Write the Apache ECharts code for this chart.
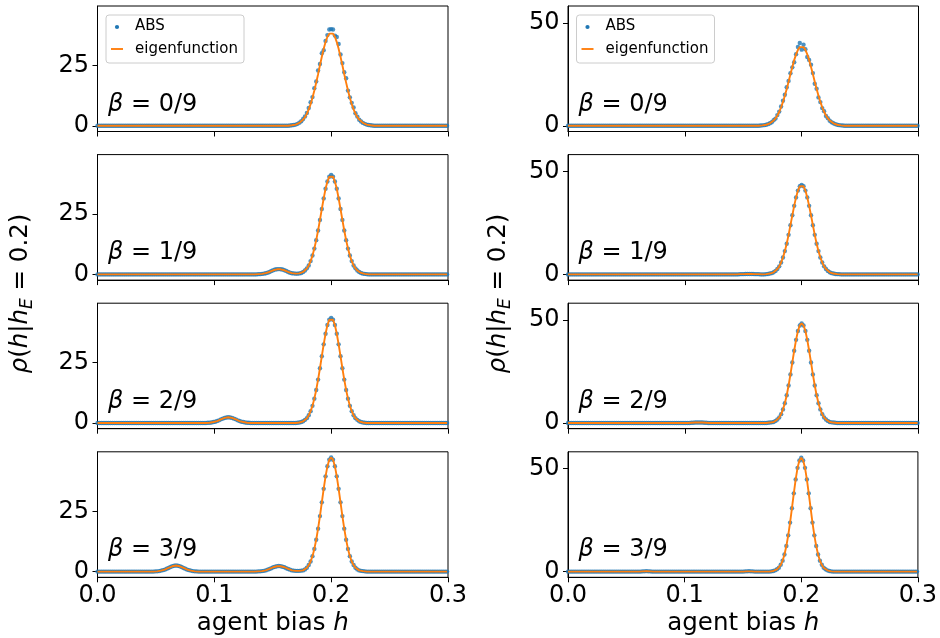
<!DOCTYPE html>
<html>
<head>
<meta charset="utf-8">
<script src="https://cdn.jsdelivr.net/npm/echarts@6/dist/echarts.min.js"></script>
<style>
  html, body { margin: 0; padding: 0; background: #ffffff; }
  #main { width: 940px; height: 638px; }
</style>
</head>
<body>
<div id="main"></div>
<script>
// Sampled bias values: sample i sits at h = i * hStep (188 samples, 0 ... 0.2992)
const hStep = 0.0016;

const betaLabels = ['0/9', '1/9', '2/9', '3/9'];
const xTicks = [0, 0.1, 0.2, 0.3];
const yTicksLeft = [0, 25];
const yTicksRight = [0, 50];

// ---- beta = 0/9 ----
const absLeftB0 = [
  0, 0, 0, 0, 0, 0, 0, 0, 0, 0,
  0, 0, 0, 0, 0, 0, 0, 0, 0, 0,
  0, 0, 0, 0, 0, 0, 0, 0, 0, 0,
  0, 0, 0, 0, 0, 0, 0, 0, 0, 0,
  0, 0, 0, 0, 0, 0, 0, 0, 0, 0,
  0, 0, 0, 0, 0, 0, 0, 0, 0, 0,
  0, 0, 0, 0, 0, 0, 0, 0, 0, 0,
  0, 0, 0, 0, 0, 0, 0, 0, 0, 0,
  0, 0, 0, 0, 0, 0, 0, 0, 0, 0,
  0, 0, 0, 0, 0, 0, 0, 0, 0, 0,
  0, 0, 0, 0.1, 0.2, 0.3, 0.5, 0.8, 1.3, 1.9,
  2.8, 3.9, 5.3, 7.4, 9.8, 11.9, 15.6, 18.4, 22.9, 25.6,
  30.1, 31.3, 35.2, 37.6, 39.9, 40.1, 39.9, 37.4, 36.8, 33.9,
  29.6, 26.0, 22.2, 19.7, 14.6, 11.8, 9.5, 7.6, 5.2, 3.8,
  2.5, 1.8, 1.2, 0.8, 0.5, 0.3, 0.2, 0.1, 0, 0,
  0, 0, 0, 0, 0, 0, 0, 0, 0, 0,
  0, 0, 0, 0, 0, 0, 0, 0, 0, 0,
  0, 0, 0, 0, 0, 0, 0, 0, 0, 0,
  0, 0, 0, 0, 0, 0, 0, 0
];
const absRightB0 = [
  0, 0, 0, 0, 0, 0, 0, 0, 0, 0,
  0, 0, 0, 0, 0, 0, 0, 0, 0, 0,
  0, 0, 0, 0, 0, 0, 0, 0, 0, 0,
  0, 0, 0, 0, 0, 0, 0, 0, 0, 0,
  0, 0, 0, 0, 0, 0, 0, 0, 0, 0,
  0, 0, 0, 0, 0, 0, 0, 0, 0, 0,
  0, 0, 0, 0, 0, 0, 0, 0, 0, 0,
  0, 0, 0, 0, 0, 0, 0, 0, 0, 0,
  0, 0, 0, 0, 0, 0, 0, 0, 0, 0,
  0, 0, 0, 0, 0, 0, 0, 0, 0, 0,
  0, 0, 0, 0.1, 0.2, 0.3, 0.5, 0.8, 1.2, 1.7,
  2.7, 3.5, 5.2, 6.9, 9.4, 12.2, 15.1, 18.7, 21.8, 25.5,
  28.4, 30.9, 34.8, 38.3, 40.2, 37.0, 39.4, 37.2, 33.4, 32.0,
  29.7, 25.6, 20.4, 18.0, 13.8, 11.5, 8.6, 7.1, 4.8, 3.7,
  2.5, 1.7, 1.2, 0.8, 0.5, 0.3, 0.2, 0.1, 0, 0,
  0, 0, 0, 0, 0, 0, 0, 0, 0, 0,
  0, 0, 0, 0, 0, 0, 0, 0, 0, 0,
  0, 0, 0, 0, 0, 0, 0, 0, 0, 0,
  0, 0, 0, 0, 0, 0, 0, 0
];
const eigenB0 = [
  0, 0, 0, 0, 0, 0, 0, 0, 0, 0,
  0, 0, 0, 0, 0, 0, 0, 0, 0, 0,
  0, 0, 0, 0, 0, 0, 0, 0, 0, 0,
  0, 0, 0, 0, 0, 0, 0, 0, 0, 0,
  0, 0, 0, 0, 0, 0, 0, 0, 0, 0,
  0, 0, 0, 0, 0, 0, 0, 0, 0, 0,
  0, 0, 0, 0, 0, 0, 0, 0, 0, 0,
  0, 0, 0, 0, 0, 0, 0, 0, 0, 0,
  0, 0, 0, 0, 0, 0, 0, 0, 0, 0,
  0, 0, 0, 0, 0, 0, 0, 0, 0, 0,
  0, 0, 0, 0.1, 0.2, 0.3, 0.5, 0.8, 1.2, 1.8,
  2.6, 3.6, 5.0, 6.8, 9.0, 11.6, 14.6, 17.9, 21.4, 25.1,
  28.6, 31.9, 34.7, 36.9, 38.2, 38.7, 38.2, 36.9, 34.7, 31.9,
  28.6, 25.1, 21.4, 17.9, 14.6, 11.6, 9.0, 6.8, 5.0, 3.6,
  2.6, 1.8, 1.2, 0.8, 0.5, 0.3, 0.2, 0.1, 0, 0,
  0, 0, 0, 0, 0, 0, 0, 0, 0, 0,
  0, 0, 0, 0, 0, 0, 0, 0, 0, 0,
  0, 0, 0, 0, 0, 0, 0, 0, 0, 0,
  0, 0, 0, 0, 0, 0, 0, 0
];

// ---- beta = 1/9 (ABS samples and eigenfunction coincide) ----
const leftB1 = [
  0, 0, 0, 0, 0, 0, 0, 0, 0, 0,
  0, 0, 0, 0, 0, 0, 0, 0, 0, 0,
  0, 0, 0, 0, 0, 0, 0, 0, 0, 0,
  0, 0, 0, 0, 0, 0, 0, 0, 0, 0,
  0, 0, 0, 0, 0, 0, 0, 0, 0, 0,
  0, 0, 0, 0, 0, 0, 0, 0, 0, 0,
  0, 0, 0, 0, 0, 0, 0, 0, 0, 0,
  0, 0, 0, 0, 0, 0, 0, 0, 0, 0,
  0, 0, 0, 0, 0, 0, 0.1, 0.1, 0.2, 0.3,
  0.5, 0.7, 1.0, 1.4, 1.7, 2.0, 2.1, 2.2, 2.1, 2.0,
  1.7, 1.4, 1.0, 0.7, 0.5, 0.4, 0.3, 0.3, 0.4, 0.6,
  1.0, 1.6, 2.5, 3.7, 5.5, 7.8, 10.7, 14.2, 18.2, 22.6,
  27.1, 31.5, 35.5, 38.5, 40.5, 41.2, 40.5, 38.5, 35.5, 31.5,
  27.1, 22.6, 18.2, 14.2, 10.7, 7.8, 5.5, 3.7, 2.5, 1.6,
  1.0, 0.6, 0.3, 0.2, 0.1, 0, 0, 0, 0, 0,
  0, 0, 0, 0, 0, 0, 0, 0, 0, 0,
  0, 0, 0, 0, 0, 0, 0, 0, 0, 0,
  0, 0, 0, 0, 0, 0, 0, 0, 0, 0,
  0, 0, 0, 0, 0, 0, 0, 0
];
const rightB1 = [
  0, 0, 0, 0, 0, 0, 0, 0, 0, 0,
  0, 0, 0, 0, 0, 0, 0, 0, 0, 0,
  0, 0, 0, 0, 0, 0, 0, 0, 0, 0,
  0, 0, 0, 0, 0, 0, 0, 0, 0, 0,
  0, 0, 0, 0, 0, 0, 0, 0, 0, 0,
  0, 0, 0, 0, 0, 0, 0, 0, 0, 0,
  0, 0, 0, 0, 0, 0, 0, 0, 0, 0,
  0, 0, 0, 0, 0, 0, 0, 0, 0, 0,
  0, 0, 0, 0, 0, 0, 0, 0, 0, 0,
  0, 0, 0.1, 0.1, 0.1, 0.2, 0.2, 0.2, 0.2, 0.2,
  0.1, 0.1, 0.1, 0, 0, 0, 0.1, 0.2, 0.4, 0.6,
  1.0, 1.7, 2.6, 3.9, 5.8, 8.2, 11.3, 14.9, 19.2, 23.9,
  28.7, 33.3, 37.4, 40.7, 42.8, 43.5, 42.8, 40.7, 37.4, 33.3,
  28.7, 23.9, 19.2, 14.9, 11.3, 8.2, 5.8, 3.9, 2.6, 1.7,
  1.0, 0.6, 0.4, 0.2, 0.1, 0.1, 0, 0, 0, 0,
  0, 0, 0, 0, 0, 0, 0, 0, 0, 0,
  0, 0, 0, 0, 0, 0, 0, 0, 0, 0,
  0, 0, 0, 0, 0, 0, 0, 0, 0, 0,
  0, 0, 0, 0, 0, 0, 0, 0
];

// ---- beta = 2/9 ----
const leftB2 = [
  0, 0, 0, 0, 0, 0, 0, 0, 0, 0,
  0, 0, 0, 0, 0, 0, 0, 0, 0, 0,
  0, 0, 0, 0, 0, 0, 0, 0, 0, 0,
  0, 0, 0, 0, 0, 0, 0, 0, 0, 0,
  0, 0, 0, 0, 0, 0, 0, 0, 0, 0,
  0, 0, 0, 0, 0, 0, 0, 0, 0, 0.1,
  0.1, 0.2, 0.4, 0.5, 0.8, 1.1, 1.5, 1.8, 2.1, 2.3,
  2.4, 2.3, 2.1, 1.8, 1.5, 1.1, 0.8, 0.5, 0.4, 0.2,
  0.1, 0.1, 0, 0, 0, 0, 0, 0, 0, 0,
  0, 0, 0, 0, 0, 0, 0, 0, 0, 0,
  0, 0, 0, 0, 0, 0, 0, 0.1, 0.2, 0.4,
  0.7, 1.3, 2.0, 3.2, 4.9, 7.1, 10.1, 13.7, 18.0, 22.7,
  27.7, 32.6, 37.0, 40.6, 42.8, 43.6, 42.8, 40.6, 37.0, 32.6,
  27.7, 22.7, 18.0, 13.7, 10.1, 7.1, 4.9, 3.2, 2.0, 1.3,
  0.7, 0.4, 0.2, 0.1, 0, 0, 0, 0, 0, 0,
  0, 0, 0, 0, 0, 0, 0, 0, 0, 0,
  0, 0, 0, 0, 0, 0, 0, 0, 0, 0,
  0, 0, 0, 0, 0, 0, 0, 0, 0, 0,
  0, 0, 0, 0, 0, 0, 0, 0
];
const rightB2 = [
  0, 0, 0, 0, 0, 0, 0, 0, 0, 0,
  0, 0, 0, 0, 0, 0, 0, 0, 0, 0,
  0, 0, 0, 0, 0, 0, 0, 0, 0, 0,
  0, 0, 0, 0, 0, 0, 0, 0, 0, 0,
  0, 0, 0, 0, 0, 0, 0, 0, 0, 0,
  0, 0, 0, 0, 0, 0, 0, 0, 0, 0,
  0, 0, 0, 0, 0, 0, 0.1, 0.1, 0.2, 0.2,
  0.2, 0.2, 0.2, 0.1, 0.1, 0, 0, 0, 0, 0,
  0, 0, 0, 0, 0, 0, 0, 0, 0, 0,
  0, 0, 0, 0, 0, 0, 0, 0, 0, 0,
  0, 0, 0, 0, 0, 0, 0, 0.1, 0.2, 0.3,
  0.5, 1.0, 1.7, 2.7, 4.3, 6.6, 9.6, 13.5, 18.2, 23.6,
  29.4, 35.1, 40.4, 44.7, 47.4, 48.4, 47.4, 44.7, 40.4, 35.1,
  29.4, 23.6, 18.2, 13.5, 9.6, 6.6, 4.3, 2.7, 1.7, 1.0,
  0.5, 0.3, 0.2, 0.1, 0, 0, 0, 0, 0, 0,
  0, 0, 0, 0, 0, 0, 0, 0, 0, 0,
  0, 0, 0, 0, 0, 0, 0, 0, 0, 0,
  0, 0, 0, 0, 0, 0, 0, 0, 0, 0,
  0, 0, 0, 0, 0, 0, 0, 0
];

// ---- beta = 3/9 ----
const leftB3 = [
  0, 0, 0, 0, 0, 0, 0, 0, 0, 0,
  0, 0, 0, 0, 0, 0, 0, 0, 0, 0,
  0, 0, 0, 0, 0, 0, 0, 0, 0, 0,
  0, 0.1, 0.1, 0.2, 0.4, 0.6, 0.8, 1.2, 1.5, 1.9,
  2.2, 2.4, 2.5, 2.4, 2.2, 1.9, 1.5, 1.2, 0.8, 0.6,
  0.4, 0.2, 0.1, 0.1, 0, 0, 0, 0, 0, 0,
  0, 0, 0, 0, 0, 0, 0, 0, 0, 0,
  0, 0, 0, 0, 0, 0, 0, 0, 0, 0,
  0, 0, 0, 0, 0, 0, 0.1, 0.1, 0.2, 0.3,
  0.5, 0.8, 1.1, 1.4, 1.8, 2.0, 2.2, 2.3, 2.2, 2.0,
  1.8, 1.4, 1.1, 0.8, 0.5, 0.4, 0.3, 0.3, 0.3, 0.4,
  0.5, 0.9, 1.6, 2.7, 4.2, 6.4, 9.4, 13.2, 17.8, 23.0,
  28.7, 34.3, 39.5, 43.7, 46.4, 47.3, 46.4, 43.7, 39.5, 34.3,
  28.7, 23.0, 17.8, 13.2, 9.4, 6.4, 4.2, 2.7, 1.6, 0.9,
  0.5, 0.3, 0.2, 0.1, 0, 0, 0, 0, 0, 0,
  0, 0, 0, 0, 0, 0, 0, 0, 0, 0,
  0, 0, 0, 0, 0, 0, 0, 0, 0, 0,
  0, 0, 0, 0, 0, 0, 0, 0, 0, 0,
  0, 0, 0, 0, 0, 0, 0, 0
];
const rightB3 = [
  0, 0, 0, 0, 0, 0, 0, 0, 0, 0,
  0, 0, 0, 0, 0, 0, 0, 0, 0, 0,
  0, 0, 0, 0, 0, 0, 0, 0, 0, 0,
  0, 0, 0, 0, 0, 0, 0, 0, 0, 0,
  0.1, 0.1, 0.2, 0.1, 0.1, 0, 0, 0, 0, 0,
  0, 0, 0, 0, 0, 0, 0, 0, 0, 0,
  0, 0, 0, 0, 0, 0, 0, 0, 0, 0,
  0, 0, 0, 0, 0, 0, 0, 0, 0, 0,
  0, 0, 0, 0, 0, 0, 0, 0, 0, 0,
  0, 0, 0, 0, 0, 0.1, 0.1, 0.2, 0.1, 0.1,
  0, 0, 0, 0, 0, 0, 0, 0, 0, 0.1,
  0.3, 0.6, 1.1, 1.9, 3.3, 5.3, 8.3, 12.4, 17.6, 23.8,
  30.8, 38.0, 44.8, 50.4, 54.0, 55.3, 54.0, 50.4, 44.8, 38.0,
  30.8, 23.8, 17.6, 12.4, 8.3, 5.3, 3.3, 1.9, 1.1, 0.6,
  0.3, 0.1, 0, 0, 0, 0, 0, 0, 0, 0,
  0, 0, 0, 0, 0, 0, 0, 0, 0, 0,
  0, 0, 0, 0, 0, 0, 0, 0, 0, 0,
  0, 0, 0, 0, 0, 0, 0, 0, 0, 0,
  0, 0, 0, 0, 0, 0, 0, 0
];

// one entry per subplot: column, row, ABS samples, eigenfunction
const panels = [
  { col: 0, row: 0, abs: absLeftB0,  eigen: eigenB0 },
  { col: 0, row: 1, abs: leftB1,     eigen: leftB1 },
  { col: 0, row: 2, abs: leftB2,     eigen: leftB2 },
  { col: 0, row: 3, abs: leftB3,     eigen: leftB3 },
  { col: 1, row: 0, abs: absRightB0, eigen: eigenB0 },
  { col: 1, row: 1, abs: rightB1,    eigen: rightB1 },
  { col: 1, row: 2, abs: rightB2,    eigen: rightB2 },
  { col: 1, row: 3, abs: rightB3,    eigen: rightB3 }
];

// layout
const colLeft = [97.5, 568];
const plotW = 350.5;
const rowTop = [6, 154.6, 303.2, 451.8];
const plotH = 125.5;
const yRange = [[-2.37, 49.67], [-2.78, 58.2]];
const yTicks = [yTicksLeft, yTicksRight];

const FONT = 'DejaVu Sans';
const BLUE = '#1f77b4';
const ORANGE = '#ff7f0e';

const toPoints = vals => vals.map((v, i) => [i * hStep, v]);

const grids = panels.map(p => ({
  left: colLeft[p.col], top: rowTop[p.row], width: plotW, height: plotH,
  show: true, borderColor: '#000', borderWidth: 1, backgroundColor: 'transparent'
}));

const xAxes = panels.map((p, k) => ({
  gridIndex: k, type: 'value', min: 0, max: 0.3, interval: 0.1,
  axisLine: { show: true, onZero: false, lineStyle: { color: '#000', width: 1 } },
  axisTick: { show: true, length: 5, customValues: xTicks, lineStyle: { color: '#000', width: 1 } },
  axisLabel: {
    show: p.row === 3, customValues: xTicks, margin: 6,
    formatter: v => Number(v).toFixed(1),
    fontSize: 24, fontFamily: FONT, color: '#000',
    showMinLabel: true, showMaxLabel: true
  },
  splitLine: { show: false }
}));

const yAxes = panels.map((p, k) => ({
  gridIndex: k, type: 'value', min: yRange[p.col][0], max: yRange[p.col][1],
  axisLine: { show: true, onZero: false, lineStyle: { color: '#000', width: 1 } },
  axisTick: { show: true, length: 5, customValues: yTicks[p.col], lineStyle: { color: '#000', width: 1 } },
  axisLabel: {
    show: true, customValues: yTicks[p.col], margin: 8.5,
    fontSize: 24, fontFamily: FONT, color: '#000'
  },
  splitLine: { show: false }
}));

const series = [];
panels.forEach((p, k) => {
  series.push({
    name: 'ABS', type: 'scatter', xAxisIndex: k, yAxisIndex: k,
    data: toPoints(p.abs), symbol: 'circle', symbolSize: 4.4,
    itemStyle: { color: BLUE }, z: 2, silent: true
  });
  series.push({
    name: 'eigenfunction', type: 'line', xAxisIndex: k, yAxisIndex: k,
    data: toPoints(p.eigen), showSymbol: false, symbol: 'none',
    lineStyle: { color: ORANGE, width: 1.9 }, z: 3, silent: true
  });
});

const graphics = [];

// beta annotations inside each subplot
panels.forEach(p => {
  graphics.push({
    type: 'text', z: 20,
    style: {
      x: colLeft[p.col] + 0.03 * plotW,
      y: rowTop[p.row] + plotH - 27.1,
      text: '{i|β} = ' + betaLabels[p.row],
      fontSize: 24, fontFamily: FONT, fill: '#000',
      align: 'left', verticalAlign: 'middle',
      rich: { i: { fontSize: 24, fontFamily: FONT, fontStyle: 'italic', fill: '#000' } }
    }
  });
});

// axis titles of both columns
[0, 1].forEach(c => {
  graphics.push({
    type: 'text', z: 20,
    x: c === 0 ? 21 : 499, y: 293.5, rotation: Math.PI / 2,
    style: {
      x: 0, y: 0,
      text: '{i|ρ}({i|h}|{i|h}{s|E} = 0.2)',
      fontSize: 24.5, fontFamily: FONT, fill: '#000', lineHeight: 30,
      align: 'center', verticalAlign: 'middle',
      rich: {
        i: { fontSize: 24.5, fontFamily: FONT, fontStyle: 'italic', fill: '#000', lineHeight: 30 },
        s: { fontSize: 17, fontFamily: FONT, fontStyle: 'italic', fill: '#000', lineHeight: 14, verticalAlign: 'bottom' }
      }
    }
  });
  graphics.push({
    type: 'text', z: 20,
    style: {
      x: colLeft[c] + plotW / 2, y: 624,
      text: 'agent bias {i|h}',
      fontSize: 24.5, fontFamily: FONT, fill: '#000',
      align: 'center', verticalAlign: 'middle',
      rich: { i: { fontSize: 24.5, fontFamily: FONT, fontStyle: 'italic', fill: '#000' } }
    }
  });

  // legend in the top subplot of each column
  const x0 = colLeft[c];
  graphics.push(
    { type: 'rect', z: 30, shape: { x: x0 + 8.5, y: 15, width: 138, height: 48, r: 3 },
      style: { fill: 'rgba(255,255,255,0.8)', stroke: '#cccccc', lineWidth: 1 } },
    { type: 'circle', z: 31, shape: { cx: x0 + 19.5, cy: 27, r: 2.1 }, style: { fill: BLUE } },
    { type: 'text', z: 31, style: { x: x0 + 37.5, y: 26.5, text: 'ABS', fontSize: 15, fontFamily: FONT, fill: '#000', align: 'left', verticalAlign: 'middle' } },
    { type: 'line', z: 31, shape: { x1: x0 + 13.5, y1: 49, x2: x0 + 25.5, y2: 49 }, style: { stroke: ORANGE, lineWidth: 1.9 } },
    { type: 'text', z: 31, style: { x: x0 + 37.5, y: 48.8, text: 'eigenfunction', fontSize: 15, fontFamily: FONT, fill: '#000', align: 'left', verticalAlign: 'middle' } }
  );
});

const chart = echarts.init(document.getElementById('main'), null, { renderer: 'canvas' });
chart.setOption({
  animation: false,
  backgroundColor: '#ffffff',
  grid: grids,
  xAxis: xAxes,
  yAxis: yAxes,
  series: series,
  graphic: { elements: graphics }
});
</script>
</body>
</html>
